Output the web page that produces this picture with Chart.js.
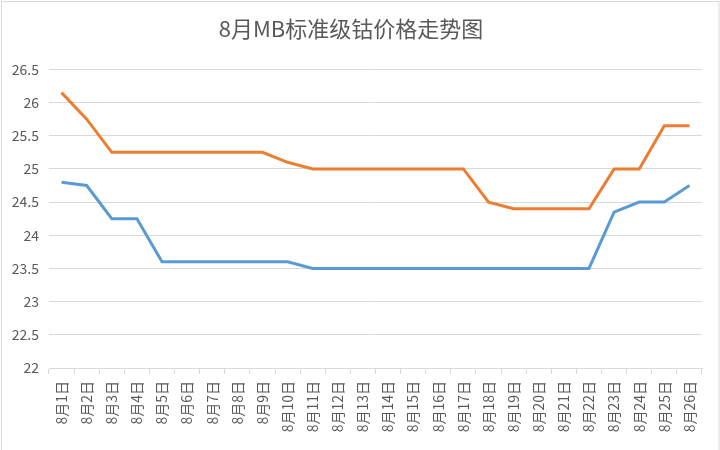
<!DOCTYPE html>
<html>
<head>
<meta charset="utf-8">
<script src="https://cdn.jsdelivr.net/npm/chart.js@4.4.1/dist/chart.umd.min.js"></script>
<style>
    html, body { margin: 0; padding: 0; background: #fff; }
    #wrap { width: 720px; height: 450px; }
</style>
</head>
<body>
<div id="wrap"><canvas id="priceChart" width="720" height="450"></canvas></div>
<script>
// ── data ──────────────────────────────────────────────
const days = ['8月1日', '8月2日', '8月3日', '8月4日', '8月5日', '8月6日', '8月7日', '8月8日', '8月9日',
    '8月10日', '8月11日', '8月12日', '8月13日', '8月14日', '8月15日', '8月16日', '8月17日', '8月18日',
    '8月19日', '8月20日', '8月21日', '8月22日', '8月23日', '8月24日', '8月25日', '8月26日'];

const lowPrices = [24.8, 24.75, 24.25, 24.25, 23.6, 23.6, 23.6, 23.6, 23.6, 23.6, 23.5, 23.5, 23.5,
    23.5, 23.5, 23.5, 23.5, 23.5, 23.5, 23.5, 23.5, 23.5, 24.35, 24.5, 24.5, 24.75];

const highPrices = [26.15, 25.75, 25.25, 25.25, 25.25, 25.25, 25.25, 25.25, 25.25, 25.1, 25, 25, 25,
    25, 25, 25, 25, 24.5, 24.4, 24.4, 24.4, 24.4, 25, 25, 25.65, 25.65];

const yMin = 22;
const yMax = 26.5;
const yStep = 0.5;

const FONT = '"Noto Sans CJK SC", "Noto Sans", sans-serif';
const TEXT_COLOR = '#595959';
const GRID_COLOR = '#d9d9d9';

// outer frame like the spreadsheet chart area
const framePlugin = {
    id: 'frame',
    afterDraw(chart) {
        const ctx = chart.ctx;
        ctx.save();
        ctx.strokeStyle = GRID_COLOR;
        ctx.lineWidth = 1;
        ctx.strokeRect(1.5, 1.5, chart.width - 2.5, chart.height + 10);
        ctx.restore();
    }
};

new Chart(document.getElementById('priceChart'), {
    type: 'line',
    data: {
        labels: days,
        datasets: [
            { data: lowPrices, borderColor: '#5b9bd5', borderWidth: 3, pointRadius: 0, tension: 0 },
            { data: highPrices, borderColor: '#ed7d31', borderWidth: 3, pointRadius: 0, tension: 0 }
        ]
    },
    options: {
        responsive: false,
        animation: false,
        layout: { padding: { left: 0, right: 18, top: 0, bottom: 0 } },
        plugins: {
            legend: { display: false },
            tooltip: { enabled: false },
            title: {
                display: true,
                text: '8月MB标准级钴价格走势图',
                color: TEXT_COLOR,
                font: { family: FONT, size: 22, weight: 'normal' },
                padding: { top: 15, bottom: 28 }
            }
        },
        scales: {
            x: {
                offset: true,
                grid: { display: true, drawOnChartArea: false, offset: true, color: GRID_COLOR, tickLength: 6 },
                border: { color: GRID_COLOR },
                ticks: {
                    color: TEXT_COLOR,
                    font: { family: FONT, size: 14 },
                    maxRotation: 90,
                    minRotation: 90,
                    autoSkip: false,
                    padding: 7
                },
                afterFit(axis) { axis.height = 82; }
            },
            y: {
                min: yMin,
                max: yMax,
                ticks: {
                    stepSize: yStep,
                    color: TEXT_COLOR,
                    font: { family: FONT, size: 14 },
                    padding: 10,
                    callback: v => String(v)
                },
                grid: { color: GRID_COLOR, drawTicks: false },
                border: { display: false },
                afterFit(axis) { axis.width = 49; }
            }
        }
    },
    plugins: [framePlugin]
});
</script>
</body>
</html>
